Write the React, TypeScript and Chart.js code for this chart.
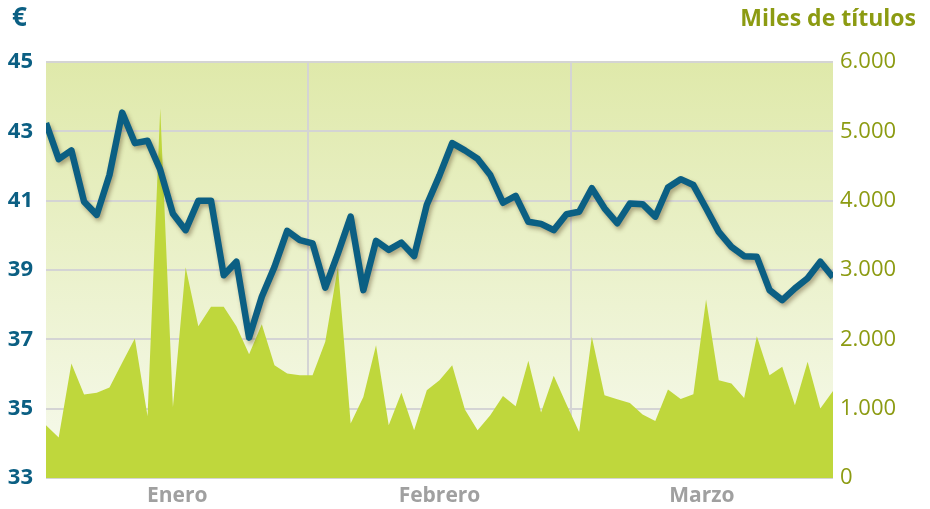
import React, { useEffect, useRef } from "react";
import { Chart, registerables } from "chart.js";

Chart.register(...registerables);

const months = ["Enero", "Febrero", "Marzo"];
const priceTicks = [33, 35, 37, 39, 41, 43, 45];
const volumeTicks = [0, 1000, 2000, 3000, 4000, 5000, 6000];

const price = [
  43.24, 42.2, 42.45, 40.97, 40.59, 41.74, 43.54, 42.66, 42.73, 41.89, 40.62,
  40.15, 41.0, 41.0, 38.85, 39.24, 37.05, 38.23, 39.09, 40.13, 39.86, 39.77,
  38.49, 39.48, 40.54, 38.42, 39.84, 39.58, 39.79, 39.4, 40.88, 41.73, 42.66,
  42.45, 42.21, 41.74, 40.94, 41.14, 40.39, 40.33, 40.15, 40.61, 40.68, 41.36,
  40.78, 40.35, 40.92, 40.9, 40.54, 41.38, 41.62, 41.45, 40.78, 40.1, 39.67,
  39.4, 39.38, 38.42, 38.13, 38.47, 38.76, 39.24, 38.79,
];

const volume = [
  761, 583, 1652, 1204, 1228, 1305, 1661, 2013, 891, 5334, 1025, 3038, 2190,
  2469, 2469, 2190, 1786, 2219, 1627, 1507, 1483, 1483, 1964, 3047, 785, 1170,
  1916, 761, 1228, 689, 1266, 1411, 1627, 988, 689, 905, 1184, 1035, 1690, 944,
  1473, 1064, 664, 2036, 1194, 1136, 1083, 915, 823, 1276, 1141, 1209, 2576,
  1411, 1363, 1155, 2046, 1483, 1603, 1050, 1675, 1002, 1256,
];

const TEAL = "#0b5f83";
const OLIVE = "#8c9b12";
const GREEN = "#bfd73c";
const GRID = "#d4d4d4";
const FONT = "'Open Sans', 'DejaVu Sans', sans-serif";

export default function App() {
  const ref = useRef<HTMLCanvasElement | null>(null);

  useEffect(() => {
    document.body.style.margin = "0";
    const canvas = ref.current;
    if (!canvas) return;
    const n = price.length - 1;
    const seg = n / months.length;

    const bgPlugin = {
      id: "bg",
      beforeDraw(chart: any) {
        const { ctx, chartArea: a } = chart;
        const g = ctx.createLinearGradient(0, a.top, 0, a.bottom);
        g.addColorStop(0, "#dfe9aa");
        g.addColorStop(1, "#f7faee");
        ctx.save();
        ctx.fillStyle = g;
        ctx.fillRect(a.left, a.top, a.right - a.left, a.bottom - a.top);
        ctx.restore();
      },
      afterDraw(chart: any) {
        const { ctx } = chart;
        ctx.save();
        ctx.textBaseline = "middle";
        ctx.font = `bold 26px ${FONT}`;
        ctx.fillStyle = TEAL;
        ctx.textAlign = "left";
        ctx.fillText("€", 12, 19);
        ctx.font = `bold 23px ${FONT}`;
        ctx.fillStyle = OLIVE;
        ctx.textAlign = "right";
        ctx.fillText("Miles de títulos", 916, 19);
        ctx.restore();
      },
      beforeDatasetDraw(chart: any, args: any) {
        if (args.index === 0) {
          const ctx = chart.ctx;
          ctx.save();
          ctx.shadowColor = "rgba(90,70,40,0.45)";
          ctx.shadowBlur = 4;
          ctx.shadowOffsetX = 2;
          ctx.shadowOffsetY = 3;
        }
      },
      afterDatasetDraw(chart: any, args: any) {
        if (args.index === 0) chart.ctx.restore();
      },
    };

    const chart = new Chart(canvas, {
      type: "line",
      data: {
        datasets: [
          {
            label: "Precio",
            data: price.map((v, i) => ({ x: i, y: v })),
            yAxisID: "y",
            xAxisID: "x",
            borderColor: TEAL,
            borderWidth: 6.5,
            borderJoinStyle: "round",
            pointRadius: 0,
            tension: 0,
            fill: false,
          },
          {
            label: "Volumen",
            data: volume.map((v, i) => ({ x: i, y: v })),
            yAxisID: "y2",
            xAxisID: "x",
            borderWidth: 0,
            borderColor: GREEN,
            backgroundColor: GREEN,
            pointRadius: 0,
            tension: 0,
            fill: "origin",
          },
        ],
      },
      plugins: [bgPlugin],
      options: {
        animation: false,
        responsive: false,
        maintainAspectRatio: false,
        layout: { padding: { top: 62, left: 0, right: 0, bottom: 0 } },
        plugins: { legend: { display: false }, tooltip: { enabled: false } },
        scales: {
          x: {
            type: "linear",
            min: 0,
            max: n,
            position: "bottom",
            border: { display: false },
            grid: { color: GRID, lineWidth: 2, drawTicks: false },
            ticks: { display: false },
            afterBuildTicks: (s: any) => {
              s.ticks = [1, 2].map((k) => ({ value: k * seg }));
            },
            afterFit: (s: any) => {
              s.height = 0;
            },
          },
          xl: {
            type: "linear",
            min: 0,
            max: n,
            position: "bottom",
            border: { display: false },
            grid: { display: false, drawTicks: false },
            ticks: {
              autoSkip: false,
              maxRotation: 0,
              padding: 5,
              color: "#a0a0a0",
              font: { family: FONT, size: 21, weight: "bold" },
              callback: (_v: any, i: number) => months[i],
            },
            afterBuildTicks: (s: any) => {
              s.ticks = months.map((_m, k) => ({ value: (k + 0.5) * seg }));
            },
            afterFit: (s: any) => {
              s.height = 31;
            },
          },
          y: {
            position: "left",
            min: priceTicks[0],
            max: priceTicks[priceTicks.length - 1],
            border: { display: false },
            grid: { color: GRID, lineWidth: 2, drawTicks: false },
            ticks: {
              stepSize: 2,
              padding: 13,
              color: TEAL,
              font: { family: FONT, size: 22, weight: "bold" },
            },
            afterBuildTicks: (s: any) => {
              s.ticks = priceTicks.map((v) => ({ value: v }));
            },
            afterFit: (s: any) => {
              s.width = 46;
            },
          },
          y2: {
            position: "right",
            min: volumeTicks[0],
            max: volumeTicks[volumeTicks.length - 1],
            border: { display: false },
            grid: { display: false, drawTicks: false },
            ticks: {
              stepSize: 1000,
              padding: 7,
              color: OLIVE,
              font: { family: FONT, size: 22, weight: "500" },
              callback: (v: any) =>
                Number(v) === 0 ? "0" : `${Math.round(Number(v) / 1000)}.000`,
            },
            afterBuildTicks: (s: any) => {
              s.ticks = volumeTicks.map((v) => ({ value: v }));
            },
            afterFit: (s: any) => {
              s.width = 97;
            },
          },
        },
      },
    } as any);

    return () => chart.destroy();
  }, []);

  return (
    <div style={{ width: 930, height: 509, position: "relative" }}>
      <canvas ref={ref} width={930} height={509} style={{ display: "block" }} />
    </div>
  );
}
